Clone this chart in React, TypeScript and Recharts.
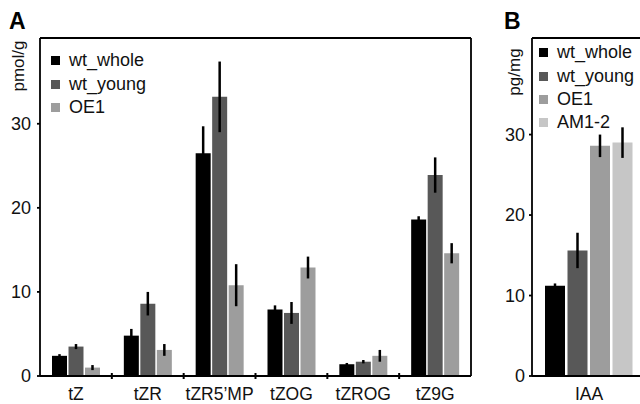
import React from 'react';
import {
  BarChart,
  Bar,
  XAxis,
  YAxis,
  ErrorBar,
  Legend,
} from 'recharts';

// Panel A: cytokinins (pmol/g)
const categoriesA = ['tZ', 'tZR', 'tZR5\u2019MP', 'tZOG', 'tZROG', 'tZ9G'];
const wtWholeA = [2.4, 4.8, 26.5, 7.9, 1.4, 18.6];
const wtWholeErrA = [0.2, 0.8, 3.2, 0.5, 0.15, 0.4];
const wtYoungA = [3.5, 8.6, 33.2, 7.5, 1.7, 23.9];
const wtYoungErrA = [0.3, 1.4, 4.2, 1.3, 0.2, 2.1];
const oe1A = [1.0, 3.1, 10.8, 12.9, 2.4, 14.6];
const oe1ErrA = [0.3, 0.7, 2.5, 1.3, 0.7, 1.2];
const ticksA = [0, 10, 20, 30];

// Panel B: auxin (pg/mg)
const categoriesB = ['IAA'];
const wtWholeB = [11.2];
const wtWholeErrB = [0.3];
const wtYoungB = [15.6];
const wtYoungErrB = [2.2];
const oe1B = [28.6];
const oe1ErrB = [1.4];
const am12B = [29.0];
const am12ErrB = [1.9];
const ticksB = [0, 10, 20, 30];

const seriesOrder = ['wt_whole', 'wt_young', 'OE1', 'AM1-2'];

const FONT = '"Liberation Sans", Arial, sans-serif';
const COLORS = { whole: '#000000', young: '#585858', oe1: '#9d9d9d', am: '#c6c6c6' };

const dataA = categoriesA.map((name, i) => ({
  name,
  wt_whole: wtWholeA[i],
  wt_whole_err: wtWholeErrA[i],
  wt_young: wtYoungA[i],
  wt_young_err: wtYoungErrA[i],
  OE1: oe1A[i],
  OE1_err: oe1ErrA[i],
}));

const dataB = categoriesB.map((name, i) => ({
  name,
  wt_whole: wtWholeB[i],
  wt_whole_err: wtWholeErrB[i],
  wt_young: wtYoungB[i],
  wt_young_err: wtYoungErrB[i],
  OE1: oe1B[i],
  OE1_err: oe1ErrB[i],
  'AM1-2': am12B[i],
  'AM1-2_err': am12ErrB[i],
}));

const renderLegend = (props: any) => {
  const items = [...(props.payload || [])].sort(
    (a: any, b: any) => seriesOrder.indexOf(a.value) - seriesOrder.indexOf(b.value)
  );
  return (
    <div style={{ fontFamily: FONT, fontSize: 18, color: '#111' }}>
      {items.map((entry: any) => (
        <div key={entry.value} style={{ display: 'flex', alignItems: 'center', height: 23.4, whiteSpace: 'nowrap' }}>
          <span style={{ width: 9, height: 9, background: entry.color, marginRight: 9, display: 'inline-block', flex: 'none' }} />
          {entry.value}
        </div>
      ))}
    </div>
  );
};

// category label plus a small tick on the left boundary of the band
const makeXTick = (halfBand: number) => (props: any) => {
  const { x, y, payload, index } = props;
  return (
    <g>
      {index > 0 && (
        <line x1={x - halfBand} x2={x - halfBand} y1={y - 3} y2={y + 3} stroke="#000" strokeWidth={2} />
      )}
      <text x={x} y={y + 24} textAnchor="middle" fontFamily={FONT} fontSize={17.5} fill="#111">
        {payload.value}
      </text>
    </g>
  );
};

const axisLine = { stroke: '#000', strokeWidth: 1.8 };
const yTick = { fontFamily: FONT, fontSize: 18, fill: '#111' };

const PanelLetter: React.FC<{ x: number; text: string }> = ({ x, text }) => (
  <div
    style={{
      position: 'absolute', left: x, top: 8, fontFamily: FONT, fontWeight: 'bold',
      fontSize: 23, lineHeight: '26px', color: '#000',
    }}
  >
    {text}
  </div>
);

const AxisTitle: React.FC<{ cx: number; cy: number; text: string }> = ({ cx, cy, text }) => (
  <div
    style={{
      position: 'absolute', left: cx, top: cy, transform: 'translate(-50%, -50%) rotate(-90deg)',
      fontFamily: FONT, fontSize: 17, color: '#111', whiteSpace: 'nowrap',
    }}
  >
    {text}
  </div>
);

const App: React.FC = () => {
  const plotWidthA = 431;
  const plotWidthB = 114;
  return (
    <div style={{ position: 'absolute', left: 0, top: 0, width: 640, height: 404, overflow: 'hidden', background: '#fff' }}>
      <PanelLetter x={9} text="A" />
      <PanelLetter x={504} text="B" />
      <AxisTitle cx={19} cy={66} text="pmol/g" />
      <AxisTitle cx={515} cy={72} text="pg/mg" />

      <div style={{ position: 'absolute', left: 0, top: 0 }}>
        <BarChart
          width={480}
          height={404}
          data={dataA}
          margin={{ top: 37, right: 8, bottom: 0, left: 0 }}
          barSize={15}
          barGap={1.5}
        >
          <XAxis
            dataKey="name"
            height={28}
            axisLine={axisLine}
            tickLine={false}
            tickSize={0}
            tickMargin={0}
            tick={makeXTick(plotWidthA / categoriesA.length / 2)}
            interval={0}
          />
          <XAxis xAxisId="top" dataKey="name" orientation="top" height={1} axisLine={axisLine} tick={false} tickLine={false} />
          <YAxis
            width={40}
            domain={[0, 40.2]}
            ticks={ticksA}
            axisLine={axisLine}
            tickLine={{ stroke: '#000', strokeWidth: 1.8 }}
            tickSize={3}
            tickMargin={6}
            tick={yTick}
          />
          <YAxis yAxisId="right" orientation="right" width={1} domain={[0, 40.2]} axisLine={axisLine} tick={false} tickLine={false} />
          <Legend
            layout="vertical"
            align="center"
            verticalAlign="middle"
            content={renderLegend}
            wrapperStyle={{ top: 49, left: 51, width: 'auto' }}
          />
          <Bar dataKey="wt_whole" fill={COLORS.whole} isAnimationActive={false}>
            <ErrorBar dataKey="wt_whole_err" width={0} stroke="#000" strokeWidth={2.5} />
          </Bar>
          <Bar dataKey="wt_young" fill={COLORS.young} isAnimationActive={false}>
            <ErrorBar dataKey="wt_young_err" width={0} stroke="#000" strokeWidth={2.5} />
          </Bar>
          <Bar dataKey="OE1" fill={COLORS.oe1} isAnimationActive={false}>
            <ErrorBar dataKey="OE1_err" width={0} stroke="#000" strokeWidth={2.5} />
          </Bar>
        </BarChart>
      </div>

      <div style={{ position: 'absolute', left: 495, top: 0 }}>
        <BarChart
          width={151}
          height={404}
          data={dataB}
          margin={{ top: 37, right: 0, bottom: 0, left: 0 }}
          barSize={20}
          barGap={2.5}
        >
          <XAxis
            dataKey="name"
            height={28}
            axisLine={axisLine}
            tickLine={false}
            tickSize={0}
            tickMargin={0}
            tick={makeXTick(plotWidthB / categoriesB.length / 2)}
            interval={0}
          />
          <XAxis xAxisId="top" dataKey="name" orientation="top" height={1} axisLine={axisLine} tick={false} tickLine={false} />
          <YAxis
            width={37}
            domain={[0, 42]}
            ticks={ticksB}
            axisLine={axisLine}
            tickLine={{ stroke: '#000', strokeWidth: 1.8 }}
            tickSize={3}
            tickMargin={4}
            tick={yTick}
          />
          <Legend
            layout="vertical"
            align="center"
            verticalAlign="middle"
            content={renderLegend}
            wrapperStyle={{ top: 41, left: 44, width: 'auto' }}
          />
          <Bar dataKey="wt_whole" fill={COLORS.whole} isAnimationActive={false}>
            <ErrorBar dataKey="wt_whole_err" width={0} stroke="#000" strokeWidth={2.5} />
          </Bar>
          <Bar dataKey="wt_young" fill={COLORS.young} isAnimationActive={false}>
            <ErrorBar dataKey="wt_young_err" width={0} stroke="#000" strokeWidth={2.5} />
          </Bar>
          <Bar dataKey="OE1" fill={COLORS.oe1} isAnimationActive={false}>
            <ErrorBar dataKey="OE1_err" width={0} stroke="#000" strokeWidth={2.5} />
          </Bar>
          <Bar dataKey="AM1-2" fill={COLORS.am} isAnimationActive={false}>
            <ErrorBar dataKey="AM1-2_err" width={0} stroke="#000" strokeWidth={2.5} />
          </Bar>
        </BarChart>
      </div>
    </div>
  );
};

export default App;
